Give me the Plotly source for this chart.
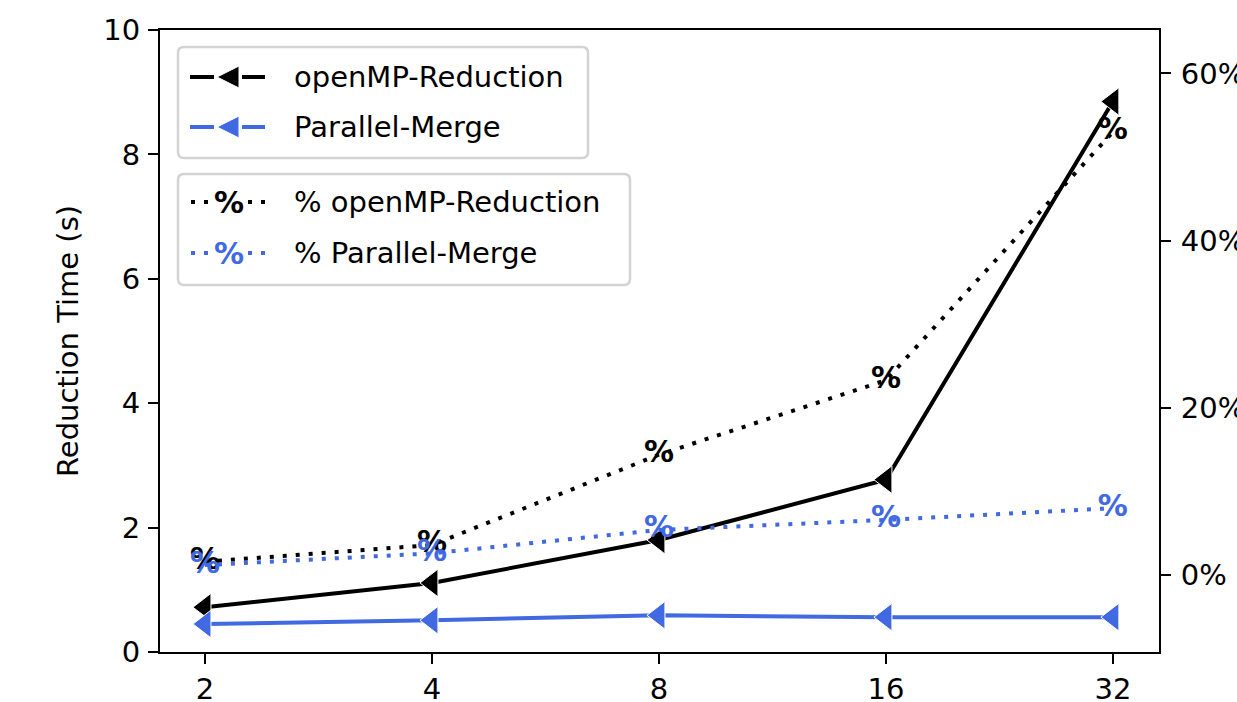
import plotly.graph_objects as go

threads = [2, 4, 8, 16, 32]
tick_labels = ["2", "4", "8", "16", "32"]

# Reduction time in seconds (left axis)
openmp_time = [0.72, 1.11, 1.80, 2.77, 8.85]
merge_time = [0.45, 0.51, 0.59, 0.56, 0.56]

# Share of total runtime spent in the reduction, in percent (right axis)
openmp_pct = [1.6, 3.6, 14.4, 23.3, 53.0]
merge_pct = [1.2, 2.6, 5.4, 6.6, 8.0]
pct_ticks = [0, 20, 40, 60]

BLUE = "#4169E1"
FONT = "DejaVu Sans"
DOTTED = "4px,9px"
LW = 4
PCT_SIZE = 30

# plot area in pixels (matches the margins below)
PL, PT, PW, PH = 160, 30, 999, 622

fig = go.Figure()

fig.add_trace(go.Scatter(
    x=threads, y=openmp_time, name="openMP-Reduction",
    mode="lines+markers",
    line=dict(color="black", width=LW),
    marker=dict(symbol="triangle-left", size=24, color="black",
                line=dict(color="white", width=1)),
))
fig.add_trace(go.Scatter(
    x=threads, y=merge_time, name="Parallel-Merge",
    mode="lines+markers",
    line=dict(color=BLUE, width=LW),
    marker=dict(symbol="triangle-left", size=24, color=BLUE,
                line=dict(color="white", width=1)),
))
fig.add_trace(go.Scatter(
    x=threads, y=openmp_pct, name="% openMP-Reduction",
    mode="lines+text", text=["<b>%</b>"] * len(threads),
    textposition="middle center",
    textfont=dict(family=FONT, size=PCT_SIZE, color="black"),
    line=dict(color="black", width=LW, dash=DOTTED),
    yaxis="y2",
))
fig.add_trace(go.Scatter(
    x=threads, y=merge_pct, name="% Parallel-Merge",
    mode="lines+text", text=["<b>%</b>"] * len(threads),
    textposition="middle center",
    textfont=dict(family=FONT, size=PCT_SIZE, color=BLUE),
    line=dict(color=BLUE, width=LW, dash=DOTTED),
    yaxis="y2",
))


# ---- hand-built legends (two boxes, matplotlib style) ----
def px_shape(**kw):
    """Shape positioned in pixels relative to the top-left plot corner."""
    return dict(xref="paper", yref="paper", xsizemode="pixel", ysizemode="pixel",
                xanchor=0, yanchor=1, **kw)


def rounded_box(x0, y0, x1, y1, r=6):
    # pixel coords from the plot corner; y grows downward here, flipped below
    X0, X1 = x0 - PL, x1 - PL
    Y0, Y1 = -(y0 - PT), -(y1 - PT)
    path = (f"M{X0 + r},{Y0} L{X1 - r},{Y0} Q{X1},{Y0} {X1},{Y0 - r} "
            f"L{X1},{Y1 + r} Q{X1},{Y1} {X1 - r},{Y1} "
            f"L{X0 + r},{Y1} Q{X0},{Y1} {X0},{Y1 + r} "
            f"L{X0},{Y0 - r} Q{X0},{Y0} {X0 + r},{Y0} Z")
    return px_shape(type="path", path=path,
                    fillcolor="rgba(255,255,255,0.8)",
                    line=dict(color="#d3d3d3", width=2.5), layer="above")


def seg(x0, x1, y, color, dash="solid"):
    return px_shape(type="line", x0=x0 - PL, x1=x1 - PL, y0=-(y - PT), y1=-(y - PT),
                    line=dict(color=color, width=LW, dash=dash), layer="above")


def tri_left(cx, cy, color, s=11):
    X, Y = cx - PL, -(cy - PT)
    path = f"M{X - s},{Y} L{X + s},{Y + s} L{X + s},{Y - s} Z"
    return px_shape(type="path", path=path, fillcolor=color,
                    line=dict(color="white", width=1), layer="above")


def label(px, py, text, color="black", size=29, bold=False):
    return dict(xref="paper", yref="paper",
                x=(px - PL) / PW, y=1 - (py - PT) / PH,
                xanchor="left" if not bold else "center", yanchor="middle",
                text=f"<b>{text}</b>" if bold else text, showarrow=False,
                font=dict(family=FONT, size=size, color=color))


shapes = [rounded_box(178, 47, 588, 158), rounded_box(178, 174, 630, 285)]
annotations = []

solid_rows = [("openMP-Reduction", "black", 77), ("Parallel-Merge", BLUE, 127)]
for name, color, y in solid_rows:
    shapes += [seg(190, 214, y, color), seg(242, 265, y, color), tri_left(228, y, color)]
    annotations.append(label(292, y, name))

pct_rows = [("% openMP-Reduction", "black", 202), ("% Parallel-Merge", BLUE, 253)]
for name, color, y in pct_rows:
    shapes += [seg(191, 212, y, color, DOTTED), seg(248, 265, y, color, DOTTED)]
    annotations.append(label(229, y, "%", color=color, size=PCT_SIZE, bold=True))
    annotations.append(label(292, y, name))

axis_common = dict(
    showline=True, linecolor="black", linewidth=2,
    ticks="outside", ticklen=10, tickwidth=2, tickcolor="black",
    showgrid=False, zeroline=False,
    tickfont=dict(family=FONT, size=29, color="black"),
)

fig.update_layout(
    width=1237, height=702,
    margin=dict(l=PL, r=1237 - PL - PW, t=PT, b=702 - PT - PH),
    plot_bgcolor="white", paper_bgcolor="white",
    showlegend=False,
    xaxis=dict(
        type="log", range=[0.2414, 1.5663],
        tickvals=threads, ticktext=tick_labels,
        mirror=True, automargin=False, ticklabelstandoff=0,
        **axis_common,
    ),
    yaxis=dict(
        range=[0, 10], tickvals=[0, 2, 4, 6, 8, 10],
        automargin=False, ticklabelstandoff=2,
        title=dict(text="Reduction Time (s)", standoff=16,
                   font=dict(family=FONT, size=29, color="black")),
        **axis_common,
    ),
    yaxis2=dict(
        overlaying="y", side="right", range=[-9.2, 65.2],
        tickvals=pct_ticks, ticktext=[f"{v}%" for v in pct_ticks],
        automargin=False, ticklabelstandoff=4,
        **axis_common,
    ),
    shapes=shapes,
    annotations=annotations,
)

fig.write_html("out.html")
